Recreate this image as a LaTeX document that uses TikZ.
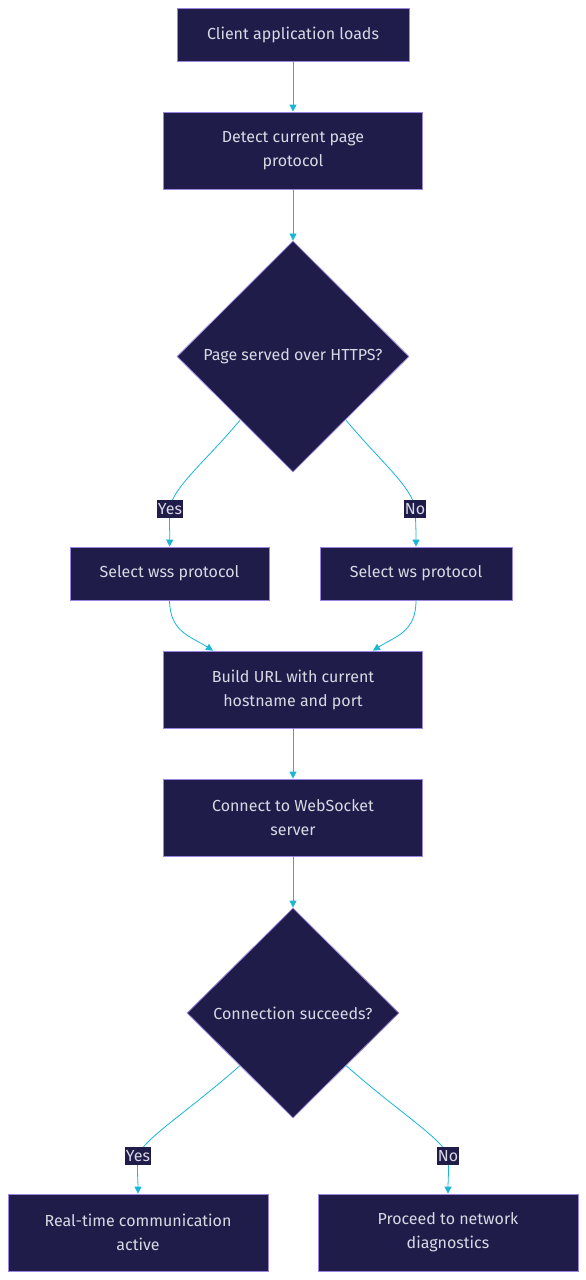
\documentclass[tikz,border=0pt]{standalone}
\usepackage{fontspec}
\setmainfont{Fira Sans}
\usetikzlibrary{shapes.geometric,arrows.meta}
\definecolor{boxfill}{HTML}{1F1C4A}
\definecolor{boxline}{HTML}{9A86E0}
\definecolor{flow}{HTML}{19B6D6}
\definecolor{ink}{HTML}{D9D9E3}
\begin{document}
\begin{tikzpicture}[x=1pt,y=-1pt,
  box/.style={draw=boxline, fill=boxfill, text=ink, line width=0.8pt, align=center, inner sep=0pt, font=\fontsize{16}{24}\selectfont},
  choice/.style={box, shape=diamond},
  tag/.style={fill=boxfill, text=ink, inner xsep=1pt, inner ysep=3pt, font=\fontsize{16}{20}\selectfont},
  flowline/.style={draw=flow, line width=0.8pt, -{Triangle[length=7pt,width=7pt]}}]
\useasboundingbox (0,0) rectangle (586,1280);
\node [box, minimum width=232pt, minimum height=53pt] (load) at (293,34.5) {Client application loads};
\node [box, minimum width=259pt, minimum height=77pt] (detect) at (293,150.5) {Detect current page\\protocol};
\node [choice, minimum width=232pt, minimum height=231pt] (https) at (293,356.5) {Page served over HTTPS?};
\node [box, minimum width=199pt, minimum height=53pt] (wss) at (169.5,573.5) {Select wss protocol};
\node [box, minimum width=192pt, minimum height=53pt] (ws) at (416,573.5) {Select ws protocol};
\node [box, minimum width=259pt, minimum height=77pt] (url) at (293,689.5) {Build URL with current\\hostname and port};
\node [box, minimum width=259pt, minimum height=77pt] (conn) at (293,817.5) {Connect to WebSocket\\server};
\node [choice, minimum width=212pt, minimum height=210pt] (ok) at (293,1013) {Connection succeeds?};
\node [box, minimum width=260pt, minimum height=77pt] (live) at (138,1232.5) {Real-time communication\\active};
\node [box, minimum width=260pt, minimum height=77pt] (diag) at (448,1232.5) {Proceed to network\\diagnostics};
% straight links
\draw [flowline] (load) -- (detect);
\draw [flowline] (detect) -- (https);
\draw [flowline] (url) -- (conn);
\draw [flowline] (conn) -- (ok);
% branches
\coordinate (y1) at (170,509);
\coordinate (n1) at (415,509);
\coordinate (y2) at (138,1156);
\coordinate (n2) at (448,1156);
\draw [flowline] ([shift={(5pt,-6pt)}]https.south west) .. controls (205,462) and (172,488) .. (y1) .. controls (169,525) and (170,535) .. (wss.north);
\draw [flowline] ([shift={(-5pt,-6pt)}]https.south east) .. controls (381,462) and (413,488) .. (n1) .. controls (416,525) and (416,535) .. (ws.north);
\draw [flowline] (wss.south) .. controls (170,632) and (190,636) .. ([xshift=-80pt]url.north);
\draw [flowline] (ws.south) .. controls (416,632) and (396,636) .. ([xshift=80pt]url.north);
\draw [flowline] (ok.south west) .. controls (190,1110) and (142,1140) .. (y2) .. controls (137,1172) and (138,1182) .. (live.north);
\draw [flowline] (ok.south east) .. controls (396,1110) and (444,1140) .. (n2) .. controls (449,1172) and (448,1182) .. (diag.north);
\node [tag] at (y1) {Yes};
\node [tag] at (n1) {No};
\node [tag] at (y2) {Yes};
\node [tag] at (n2) {No};
\end{tikzpicture}
\end{document}
